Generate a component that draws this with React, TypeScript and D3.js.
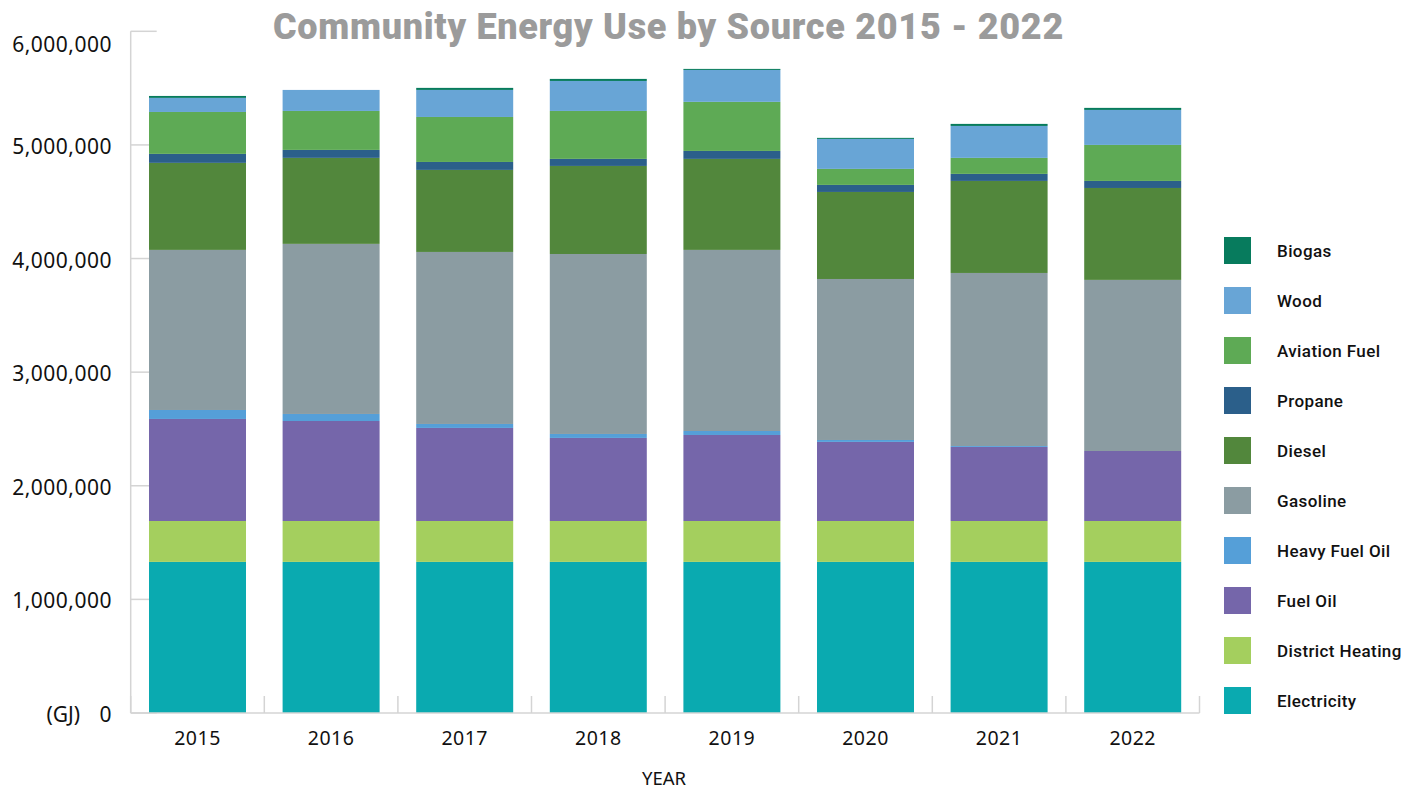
import React from "react";
import * as d3 from "d3";

const years = ["2015", "2016", "2017", "2018", "2019", "2020", "2021", "2022"];
const sources = ["Electricity", "District Heating", "Fuel Oil", "Heavy Fuel Oil", "Gasoline", "Diesel", "Propane", "Aviation Fuel", "Wood", "Biogas"];

const electricity = [1330000, 1330000, 1330000, 1330000, 1330000, 1330000, 1330000, 1330000];
const districtHeating = [360000, 360000, 360000, 360000, 360000, 360000, 360000, 360000];
const fuelOil = [898000, 880000, 819000, 731000, 757000, 696000, 652000, 616000];
const heavyFuelOil = [79000, 62000, 35000, 35000, 35000, 17000, 8000, 0];
const gasoline = [1409000, 1497000, 1514000, 1584000, 1594000, 1417000, 1523000, 1506000];
const diesel = [766000, 757000, 722000, 775000, 801000, 766000, 810000, 809000];
const propane = [79000, 70000, 70000, 62000, 70000, 62000, 62000, 62000];
const aviationFuel = [369000, 343000, 396000, 422000, 432000, 141000, 141000, 317000];
const wood = [124000, 185000, 238000, 264000, 281000, 264000, 281000, 308000];
const biogas = [17000, 0, 18000, 18000, 9000, 9000, 18000, 18000];

const yTicks = [0, 1000000, 2000000, 3000000, 4000000, 5000000, 6000000];

const seriesValues: Record<string, number[]> = {
  "Electricity": electricity,
  "District Heating": districtHeating,
  "Fuel Oil": fuelOil,
  "Heavy Fuel Oil": heavyFuelOil,
  "Gasoline": gasoline,
  "Diesel": diesel,
  "Propane": propane,
  "Aviation Fuel": aviationFuel,
  "Wood": wood,
  "Biogas": biogas,
};

const colors: Record<string, string> = {
  "Electricity": "#0aaab0",
  "District Heating": "#a4cf5e",
  "Fuel Oil": "#7566aa",
  "Heavy Fuel Oil": "#559fd8",
  "Gasoline": "#8b9ca2",
  "Diesel": "#52873c",
  "Propane": "#2b5f8a",
  "Aviation Fuel": "#5eaa55",
  "Wood": "#68a5d6",
  "Biogas": "#077b5d",
};

export default function App() {
  const W = 1420, H = 789;
  const x0 = 130.7, x1 = 1199.5, yBottom = 713, yTop = 31.3;
  const x = d3.scaleBand<string>().domain(years).range([x0, x1]).paddingInner(0.274).paddingOuter(0.137);
  const y = d3.scaleLinear().domain([0, 6000000]).range([yBottom, yTop]);

  const table = years.map((yr, i) => {
    const row: any = { year: yr };
    sources.forEach((s) => (row[s] = seriesValues[s][i]));
    return row;
  });
  const stacked = d3.stack<any>().keys(sources)(table);
  const fmt = d3.format(",");
  const step = x.step();
  const boundaries = d3.range(years.length + 1).map((i) => x0 + i * step);
  const legendOrder = [...sources].reverse();
  const font = "'Noto Sans', 'DejaVu Sans', sans-serif";

  return (
    <svg width={W} height={H} style={{ position: "absolute", left: 0, top: 0, background: "#fff" }}>
      <text x={668.5} y={39} textAnchor="middle" fill="#9b9b9b" fontFamily="Roboto, sans-serif" fontWeight={900} fontSize={36} letterSpacing={0.7}>
        Community Energy Use by Source 2015 - 2022
      </text>

      {/* y axis */}
      <line x1={x0} x2={x0} y1={yTop} y2={yBottom} stroke="#d4d4d4" strokeWidth={1.5} />
      {yTicks.map((t) => (
        <g key={t}>
          <line x1={x0} x2={x0 + 26} y1={y(t)} y2={y(t)} stroke="#d4d4d4" strokeWidth={1.5} />
          <text x={112} y={Math.max(y(t), 43) + 1} textAnchor="end" dominantBaseline="central" fontFamily={font} fontWeight={400} fontSize={21} letterSpacing={0.5} fill="#111">
            {fmt(t)}
          </text>
        </g>
      ))}
      <text x={80} y={y(0) + 1} textAnchor="end" dominantBaseline="central" fontFamily={font} fontWeight={400} fontSize={21} fill="#111">(GJ)</text>

      {/* bars */}
      {stacked.map((layer) => (
        <g key={layer.key} fill={colors[layer.key]}>
          {layer.map((d, i) => (
            <rect key={i} x={x(years[i])} width={x.bandwidth()} y={y(d[1])} height={Math.max(0, y(d[0]) - y(d[1]))} />
          ))}
        </g>
      ))}

      {/* x axis */}
      <line x1={x0} x2={x1} y1={yBottom} y2={yBottom} stroke="#d4d4d4" strokeWidth={1.5} />
      {boundaries.map((b, i) => (
        <line key={i} x1={b} x2={b} y1={yBottom - 17} y2={yBottom} stroke="#d4d4d4" strokeWidth={1.5} />
      ))}
      {years.map((yr) => (
        <text key={yr} x={(x(yr) as number) + x.bandwidth() / 2} y={737} textAnchor="middle" dominantBaseline="central" fontFamily={font} fontWeight={400} fontSize={19.5} letterSpacing={0.5} fill="#111">
          {yr}
        </text>
      ))}
      <text x={664} y={777} textAnchor="middle" dominantBaseline="central" fontFamily={font} fontWeight={400} fontSize={18.5} fill="#111">YEAR</text>

      {/* legend */}
      {legendOrder.map((s, i) => (
        <g key={s} transform={`translate(1224, ${237 + i * 50})`}>
          <rect width={27} height={27} fill={colors[s]} />
          <text x={53} y={14} dominantBaseline="central" fontFamily="Roboto, sans-serif" fontWeight={500} fontSize={17} letterSpacing={0.4} fill="#111">
            {s}
          </text>
        </g>
      ))}
    </svg>
  );
}
